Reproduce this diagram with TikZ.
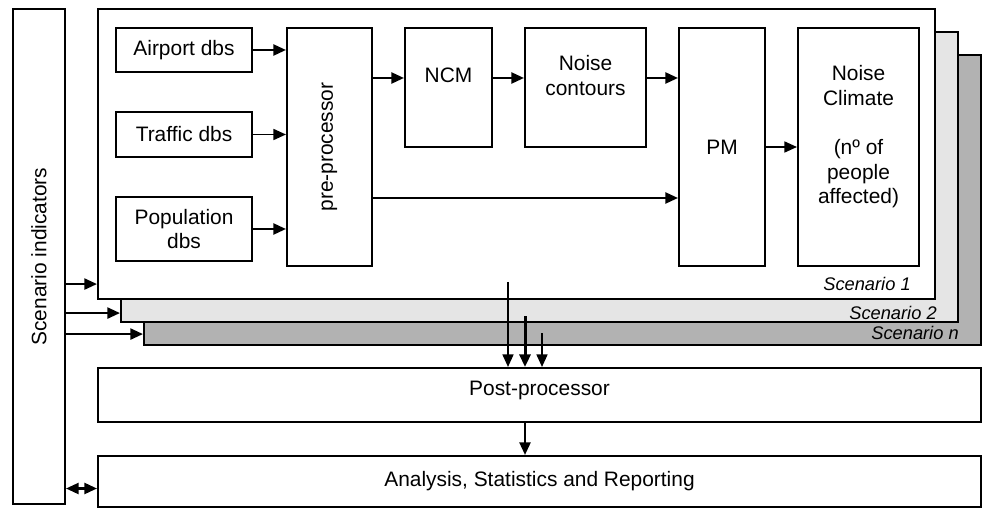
\documentclass[tikz,border=0pt]{standalone}
\usepackage{fontspec}
\setmainfont{Liberation Sans}
\usepackage{graphicx}
\usetikzlibrary{arrows.meta}

\begin{document}
\begin{tikzpicture}[x=1cm,y=1cm]
\tikzset{
  box/.style={rectangle,draw,line width=1.2pt,fill=white,inner sep=2pt,align=center,font=\fontsize{11.9}{14}\selectfont},
  layer/.style={rectangle,draw,line width=1.2pt,minimum width=16.74cm,minimum height=5.8cm},
  tag/.style={anchor=east,inner sep=0pt,font=\fontsize{10.4}{12}\selectfont\itshape},
  directed/.style={-{Triangle[length=2.5mm,width=2.2mm]},line width=1.2pt},
  twoway/.style={{Triangle[length=2.5mm,width=2.2mm]}-{Triangle[length=2.5mm,width=2.2mm]},line width=1.2pt}
}
\useasboundingbox (0,0) rectangle (19.7,10.16);
% scenario stack
\node[layer,fill=black!30] (n_scn) at (11.25,6.16) {};
\node[layer,fill=black!10] (n_sc2) at (10.79,6.62) {};
\node[layer,fill=white] (n_sc1) at (10.33,7.08) {};
\node[tag] (n_tn) at ([xshift=-4.6mm,yshift=2.6mm]n_scn.south east) {Scenario n};
\node[tag] (n_t2) at ([xshift=-4.4mm,yshift=2mm]n_sc2.south east) {Scenario 2};
\node[tag] (n_t1) at ([xshift=-5mm,yshift=3.2mm]n_sc1.south east) {Scenario 1};
% blocks
\node[box,minimum width=1.04cm,minimum height=9.9cm] (n_ind) at (0.78,5.03) {\rotatebox{90}{Scenario indicators}};
\node[box,minimum width=2.72cm,minimum height=0.88cm] (n_air) at (3.68,9.16) {Airport dbs};
\node[box,minimum width=2.72cm,minimum height=0.9cm] (n_traf) at (3.68,7.47) {Traffic dbs};
\node[box,minimum width=2.72cm,minimum height=1.28cm] (n_pop) at (3.68,5.58) {Population\\dbs};
\node[box,minimum width=1.7cm,minimum height=4.76cm] (n_pre) at (6.59,7.22) {\rotatebox{90}{pre-processor}};
\node[box,minimum width=1.74cm,minimum height=2.38cm] (n_ncm) at (8.97,8.41) {NCM\\~};
\node[box,minimum width=2.42cm,minimum height=2.38cm] (n_cont) at (11.71,8.41) {Noise\\contours\\~};
\node[box,minimum width=1.72cm,minimum height=4.76cm] (n_pm) at (14.44,7.22) {PM};
\node[box,minimum width=2.42cm,minimum height=4.76cm] (n_clim) at (17.17,7.22) {Noise\\Climate\\~\\(nº of\\people\\affected)\\~};
\node[box,minimum width=17.66cm,minimum height=1.08cm,text depth=0.27cm] (n_post) at (10.79,2.26) {Post-processor};
\node[box,minimum width=17.66cm,minimum height=1.02cm] (n_ana) at (10.79,0.53) {Analysis, Statistics and Reporting};
\coordinate (c_o1) at (10.16,4.52);
\coordinate (c_o2) at (10.50,3.84);
\coordinate (c_on) at (10.84,3.50);
% connectors
\draw[directed] (n_air.east) -- (n_air.east -| n_pre.west);
\draw[directed,line width=0.9pt] (n_traf.east) -- (n_traf.east -| n_pre.west);
\draw[directed] (n_pop.east) -- (n_pop.east -| n_pre.west);
\draw[directed] ([yshift=1.9mm]n_ncm.west -| n_pre.east) -- ([yshift=1.9mm]n_ncm.west);
\draw[directed] ([yshift=1.9mm]n_ncm.east) -- ([yshift=1.9mm]n_cont.west);
\draw[directed] ([yshift=1.9mm]n_cont.east) -- ([yshift=1.9mm]n_cont.east -| n_pm.west);
\draw[directed] ([yshift=-10.2mm]n_pre.east) -- ([yshift=-10.2mm]n_pre.east -| n_pm.west);
\draw[directed,line width=0.9pt] (n_pm.east) -- (n_clim.west);
\draw[directed] ([yshift=3.2mm]n_sc1.south west -| n_ind.east) -- ([yshift=3.2mm]n_sc1.south west);
\draw[directed] ([yshift=2mm]n_sc2.south west -| n_ind.east) -- ([yshift=2mm]n_sc2.south west);
\draw[directed] ([yshift=2.4mm]n_scn.south west -| n_ind.east) -- ([yshift=2.4mm]n_scn.south west);
\draw[directed,line width=0.9pt] (c_o1) -- (c_o1 |- n_post.north);
\draw[directed,line width=1.7pt] (c_o2) -- (c_o2 |- n_post.north);
\draw[directed,line width=0.9pt] (c_on) -- (c_on |- n_post.north);
\draw[directed] (n_post.south -| c_o2) -- (n_ana.north -| c_o2);
\draw[twoway] ([yshift=-1.4mm]n_ana.west -| n_ind.east) -- ([yshift=-1.4mm]n_ana.west);
\end{tikzpicture}
\end{document}
